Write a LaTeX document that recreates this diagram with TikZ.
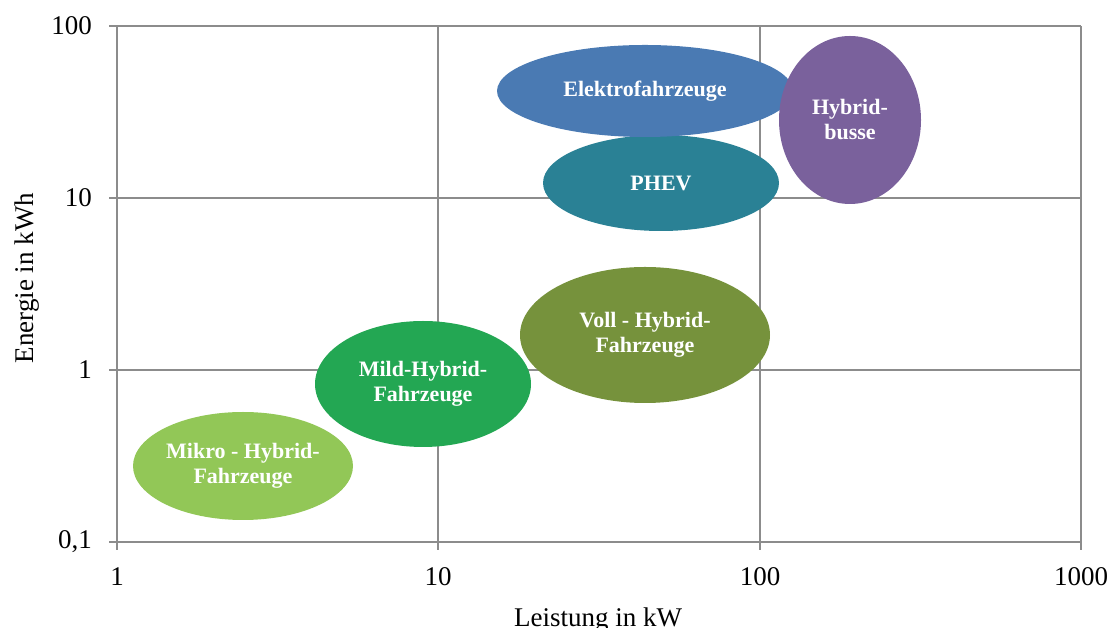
\documentclass[tikz,border=0pt]{standalone}
\usepackage{fontspec}
\setmainfont{Liberation Serif}
\usepackage{tikz}
\usetikzlibrary{shapes.geometric, positioning}
\definecolor{gridGray}{HTML}{8C8C8C}
\definecolor{mikroGreen}{HTML}{92C757}
\definecolor{mildGreen}{HTML}{23A753}
\definecolor{vollOlive}{HTML}{76923C}
\definecolor{phevTeal}{HTML}{2A8195}
\definecolor{elektroBlue}{HTML}{4A7AB3}
\definecolor{busPurple}{HTML}{7A619C}
\tikzstyle{blob} = [ellipse, inner sep=0pt, align=center, text=white, font=\fontsize{22}{25}\selectfont\bfseries]

\begin{document}
\begin{tikzpicture}[x=1pt, y=1pt]
            \tikzstyle{gridline} = [draw=gridGray, line width=1.6pt]
            \tikzstyle{ticklabel} = [inner sep=0pt, font=\fontsize{27}{30}\selectfont]
            \tikzstyle{axislabel} = [ticklabel, anchor=base]

            \useasboundingbox (0,0) rectangle (1113,628);

            % grid, with the ticks
            \draw[gridline] (109,86) -- (1081,86);
            \draw[gridline] (109,258) -- (1081,258);
            \draw[gridline] (109,430) -- (1081,430);
            \draw[gridline] (109,602) -- (1081,602);
            \draw[gridline] (117,78) -- (117,602);
            \draw[gridline] (438,78) -- (438,602);
            \draw[gridline] (760,78) -- (760,602);
            \draw[gridline] (1081,78) -- (1081,602);

            \node[ticklabel, anchor=east] (yTen1) at (92,86) {0,1};
            \node[ticklabel, anchor=east] (yTen2) at (92,258) {1};
            \node[ticklabel, anchor=east] (yTen3) at (92,430) {10};
            \node[ticklabel, anchor=east] (yTen4) at (92,602) {100};

            \node[ticklabel] (xTen1) at (117,51) {1};
            \node[ticklabel] (xTen2) at (438,51) {10};
            \node[ticklabel] (xTen3) at (760,51) {100};
            \node[ticklabel] (xTen4) at (1081,51) {1000};

            \node[axislabel, rotate=90] (energy) at (33,350) {Energie in kWh};
            \node[axislabel] (power) at (598,1) {Leistung in kW};

            % vehicle classes
            \node[blob, fill=mikroGreen, minimum width=220pt, minimum height=108pt] (mikro) at (243,162) {Mikro - Hybrid-\\Fahrzeuge};
            \node[blob, fill=vollOlive, minimum width=250pt, minimum height=136pt] (voll) at (645,293) {Voll - Hybrid-\\Fahrzeuge};
            \node[blob, fill=mildGreen, minimum width=216pt, minimum height=126pt] (mild) at (423,244) {Mild-Hybrid-\\Fahrzeuge};
            \node[blob, fill=phevTeal, minimum width=236pt, minimum height=96pt] (phev) at (661,445) {PHEV};
            \node[blob, fill=elektroBlue, minimum width=296pt, minimum height=92pt] (elektro) at (645,537) {Elektrofahrzeuge};
            \node[blob, fill=busPurple, minimum width=142pt, minimum height=168pt] (busse) at (850,508) {Hybrid-\\busse};

        \end{tikzpicture}
\end{document}
